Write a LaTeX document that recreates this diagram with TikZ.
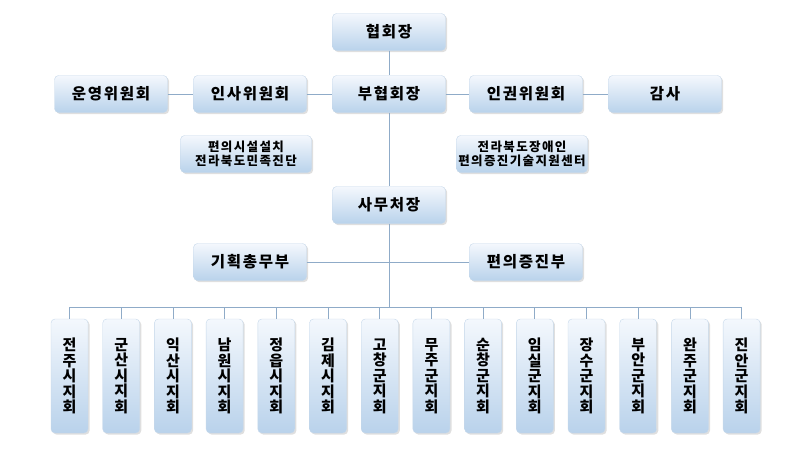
\documentclass[tikz,border=0pt]{standalone}
\usepackage{fontspec}
\newfontfamily\kr{Noto Sans CJK KR}[LetterSpace=11]
\usetikzlibrary{positioning}
\usetikzlibrary{shadows}
\definecolor{boxtop}{HTML}{F4F8FD}
\definecolor{boxbot}{HTML}{B9D2EB}
\definecolor{boxedge}{HTML}{C6D8EA}
\definecolor{linkcol}{HTML}{8FABC8}

\begin{document}
\begin{tikzpicture}[x=1pt,y=1pt,
    box/.style={rounded corners=4pt,top color=boxtop,bottom color=boxbot,
      draw=boxedge,line width=0.4pt,minimum width=113pt,minimum height=37pt,
      inner sep=0pt,align=center,font=\kr\bfseries\fontsize{15.5}{17}\selectfont,
      drop shadow={shadow xshift=1.6pt,shadow yshift=-1.6pt,opacity=0.25}},
    small/.style={minimum width=131pt,font=\kr\bfseries\fontsize{12.5}{14}\selectfont},
    branch/.style={box,minimum width=37pt,minimum height=114pt,
      font=\kr\bfseries\fontsize{15}{15.5}\selectfont},
    link/.style={draw=linkcol,line width=0.8pt}]
  \useasboundingbox (0,0) rectangle (800,-450);
  % top rows
  \node[box] (pres) at (389,-32) {협회장};
  \node[box] (vice) at (389,-94) {부협회장};
  \node[box] (ops) at (111,-94) {운영위원회};
  \node[box] (hr) at (250,-94) {인사위원회};
  \node[box] (rights) at (526,-94) {인권위원회};
  \node[box] (audit) at (665,-94) {감사};
  \node[box,small] (survey) at (246,-154) {편의시설설치\\전라북도민족진단};
  \node[box,small] (center) at (522,-154) {전라북도장애인\\편의증진기술지원센터};
  \node[box] (sec) at (389,-205) {사무처장};
  \node[box] (plan) at (250,-262) {기획총무부};
  \node[box] (promo) at (526,-262) {편의증진부};
  \coordinate (bus) at (389,-307);
  % branches
  \foreach \i/\a/\b/\c in {0/전/주/시, 1/군/산/시, 2/익/산/시, 3/남/원/시,
      4/정/읍/시, 5/김/제/시, 6/고/창/군, 7/무/주/군, 8/순/창/군,
      9/임/실/군, 10/장/수/군, 11/부/안/군, 12/완/주/군, 13/진/안/군} {
    \node[branch] (br\i) at (69.5+51.7*\i,-376) {\a\\\b\\\c\\지\\회};
  }
  % links
  \draw[link] (pres) -- (vice);
  \draw[link] (ops) -- (hr) -- (vice) -- (rights) -- (audit);
  \draw[link] (vice) -- (sec);
  \draw[link] (sec) -- (bus);
  \draw[link] (plan) -- (promo);
  \draw[link] (br0 |- bus) -- (br13 |- bus);
  \foreach \i in {0,...,13} {
    \draw[link] (br\i |- bus) -- (br\i);
  }
\end{tikzpicture}
\end{document}
